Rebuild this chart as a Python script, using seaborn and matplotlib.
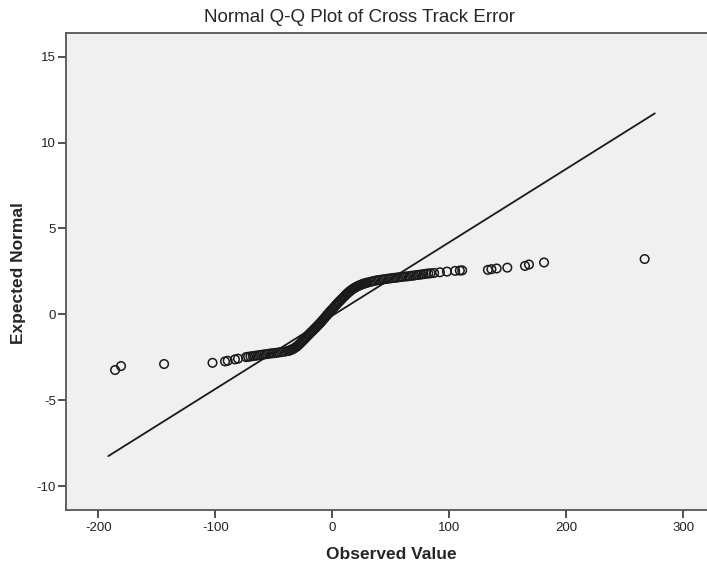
import numpy as np
import pandas as pd
import matplotlib
matplotlib.use("Agg")
import matplotlib.pyplot as plt
import seaborn as sns

sns.set_style("ticks")
plt.rcParams['font.family'] = ['Liberation Sans', 'DejaVu Sans']
plt.rcParams['axes.unicode_minus'] = False

# --- data ---
# left tail
obs_left = [-185.7, -180.6, -143.8, -102.4, -91.7, -89.4, -83.2, -80.6, -73.8]
exp_left = [-3.24, -3.01, -2.89, -2.82, -2.74, -2.70, -2.62, -2.58, -2.49]

# lower flat band
obs_low = [-72, -70, -68, -66, -64, -62, -60, -58, -56, -54, -52, -50, -48, -46,
           -44, -42, -40, -38]
exp_low = [-2.47, -2.45, -2.43, -2.41, -2.39, -2.37, -2.35, -2.33, -2.31, -2.29,
           -2.27, -2.26, -2.24, -2.22, -2.20, -2.18, -2.16, -2.13]

# steep middle of the S
obs_mid = [-37, -36, -35, -34, -33, -32, -31, -30, -29, -28, -27, -26, -25, -24,
           -23, -22, -21, -20, -19, -18, -17, -16, -15, -14, -13, -12, -11, -10,
           -9, -8, -7, -6, -5, -4, -3, -2, -1, 0, 1, 2, 3, 4, 5, 6, 7, 8, 9, 10,
           11, 12, 13, 14, 15, 16, 17, 18, 19, 20, 21, 22, 23, 24, 25, 26, 27,
           28, 29, 30]
exp_mid = [-2.11, -2.09, -2.06, -2.03, -1.99, -1.95, -1.90, -1.85, -1.79, -1.72,
           -1.66, -1.59, -1.52, -1.45, -1.38, -1.31, -1.24, -1.17, -1.10, -1.03,
           -0.97, -0.90, -0.83, -0.76, -0.69, -0.62, -0.55, -0.48, -0.40, -0.32,
           -0.24, -0.16, -0.08, 0.00, 0.08, 0.16, 0.23, 0.31, 0.38, 0.46, 0.53,
           0.61, 0.68, 0.75, 0.82, 0.89, 0.96, 1.03, 1.10, 1.17, 1.23, 1.29, 1.35,
           1.40, 1.45, 1.50, 1.54, 1.58, 1.62, 1.65, 1.68, 1.71, 1.74, 1.76, 1.79,
           1.81, 1.83, 1.85]

# upper flat band
obs_high = [32, 34, 36, 38, 40, 42, 44, 46, 48, 50, 52, 54, 56, 58, 60, 62, 64,
            66, 68, 70, 72, 74, 76, 78, 80, 82]
exp_high = [1.88, 1.92, 1.95, 1.98, 2.00, 2.02, 2.04, 2.06, 2.08, 2.10, 2.12,
            2.13, 2.15, 2.17, 2.19, 2.20, 2.21, 2.23, 2.25, 2.26, 2.29, 2.30,
            2.32, 2.34, 2.36, 2.38]

# right tail
obs_right = [84, 87, 92, 98, 105, 109, 111, 133, 136, 140.5, 149.6, 164.7, 168.1,
             181, 267]
exp_right = [2.39, 2.41, 2.45, 2.49, 2.53, 2.55, 2.56, 2.59, 2.63, 2.67, 2.72,
             2.82, 2.90, 3.02, 3.22]

# reference line (normal fit)
line_obs = [-191.5, 275.7]
line_exp = [-8.25, 11.7]

x_ticks = [-200, -100, 0, 100, 200, 300]
y_ticks = [-10, -5, 0, 5, 10, 15]

df = pd.DataFrame({
    'Observed Value': obs_left + obs_low + obs_mid + obs_high + obs_right,
    'Expected Normal': exp_left + exp_low + exp_mid + exp_high + exp_right,
})
line_df = pd.DataFrame({'x': line_obs, 'y': line_exp})

fig = plt.figure(figsize=(7.07, 5.69), dpi=100)
ax = fig.add_axes([65.7 / 707, 1 - 509.7 / 569, 1 - 65.7 / 707, (509.7 - 33.3) / 569])
ax.set_facecolor('#F0F0F0')

sns.lineplot(data=line_df, x='x', y='y', color='#1a1a1a', linewidth=1.3, ax=ax)
sns.scatterplot(data=df, x='Observed Value', y='Expected Normal', s=38,
                facecolors='none', edgecolor='#1a1a1a', linewidth=1.1, ax=ax)

ax.set_xlim(-227.9, 320.3)
ax.set_ylim(-11.37, 16.36)
ax.set_xticks(x_ticks)
ax.set_yticks(y_ticks)
ax.tick_params(axis='both', direction='out', length=6, width=1.2, color='#333333',
               labelsize=9.5, labelcolor='#222222')
ax.tick_params(axis='y', pad=1)
ax.tick_params(axis='x', pad=3)

for side in ['left', 'bottom', 'top']:
    ax.spines[side].set_color('#555555')
    ax.spines[side].set_linewidth(1.3)
ax.spines['right'].set_visible(False)

ax.set_xlabel('Observed Value', fontsize=12.5, fontweight='bold')
ax.set_ylabel('Expected Normal', fontsize=12.5, fontweight='bold')
ax.xaxis.set_label_coords(0.508, -0.078)
ax.yaxis.set_label_coords(-0.062, 0.496)

fig.text(359 / 707, 1 - 17 / 569, 'Normal Q-Q Plot of Cross Track Error',
         ha='center', va='center', fontsize=13.5)

fig.savefig('out.png', dpi=100)
